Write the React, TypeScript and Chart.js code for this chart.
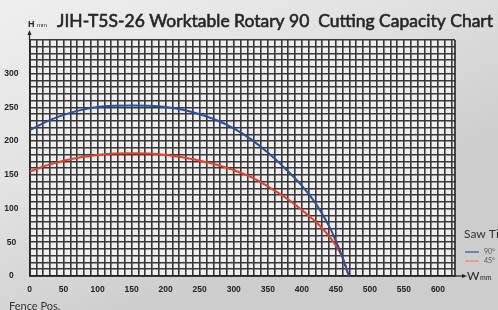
import React, { useEffect, useRef } from "react";
import { Chart, registerables } from "chart.js";

Chart.register(...registerables);

// ---- Data ----
const widths90 = [0, 25, 50, 75, 100, 125, 150, 175, 200, 225, 250, 275, 300, 325, 350, 375, 400, 420, 440, 450, 460, 469];
const heights90 = [216, 229, 239, 246, 250.5, 252.5, 253, 252.5, 250.5, 246.5, 240, 231, 219, 203, 183, 160, 134, 108, 74, 52, 27, 0];
const widths45 = [0, 25, 50, 75, 100, 125, 150, 175, 200, 225, 250, 275, 300, 325, 350, 375, 400, 425, 440, 450, 460, 469];
const heights45 = [155, 164, 171, 176, 179.5, 181.5, 182, 181.5, 179.5, 176, 171, 165, 157, 147, 133, 117, 98, 76, 59, 45, 27, 0];
const seriesLabels = ["90°", "45°"];
const xTickLabels = [0, 50, 100, 150, 200, 250, 300, 350, 400, 450, 500, 550, 600];
const yTickLabels = [0, 50, 100, 150, 200, 250, 300];
const titleText = "JIH-T5S-26 Worktable Rotary 90  Cutting Capacity Chart";
const legendTitle = "Saw Tilt";

const toPoints = (xs: number[], ys: number[]) => xs.map((x, i) => ({ x, y: ys[i] }));

const decorPlugin = {
  id: "decor",
  beforeDraw(chart: any) {
    const { ctx, width, height, chartArea } = chart;
    ctx.save();
    const g = ctx.createLinearGradient(0, 0, width * 0.3, height);
    g.addColorStop(0, "#efefef");
    g.addColorStop(0.5, "#e2e2e2");
    g.addColorStop(1, "#cdcdcd");
    ctx.fillStyle = g;
    ctx.fillRect(0, 0, width, height);
    ctx.fillStyle = "#efefef";
    ctx.fillRect(chartArea.left, chartArea.top, chartArea.right - chartArea.left, chartArea.bottom - chartArea.top);
    ctx.restore();
  },
  afterDraw(chart: any) {
    const { ctx, chartArea } = chart;
    const { left, right, top, bottom } = chartArea;
    ctx.save();
    ctx.strokeStyle = "#222";
    ctx.fillStyle = "#222";
    ctx.lineWidth = 1.6;
    // right border
    ctx.beginPath();
    ctx.moveTo(right, top);
    ctx.lineTo(right, bottom);
    ctx.stroke();
    // y arrow
    ctx.lineWidth = 1.2;
    ctx.beginPath();
    ctx.moveTo(left, top);
    ctx.lineTo(left, top - 7);
    ctx.stroke();
    ctx.beginPath();
    ctx.moveTo(left, top - 10);
    ctx.lineTo(left - 2, top - 5);
    ctx.lineTo(left + 2, top - 5);
    ctx.closePath();
    ctx.fill();
    // x arrow
    ctx.beginPath();
    ctx.moveTo(right, bottom);
    ctx.lineTo(right + 8, bottom);
    ctx.stroke();
    ctx.beginPath();
    ctx.moveTo(right + 12, bottom);
    ctx.lineTo(right + 7, bottom - 2);
    ctx.lineTo(right + 7, bottom + 2);
    ctx.closePath();
    ctx.fill();

    ctx.textBaseline = "alphabetic";
    ctx.textAlign = "left";
    // H mm
    ctx.fillStyle = "#222";
    ctx.font = "bold 9px 'Liberation Sans', sans-serif";
    ctx.fillText("H", 28, 26.5);
    ctx.font = "6px 'Liberation Sans', sans-serif";
    ctx.fillText("mm", 37, 26.5);
    // W mm
    ctx.font = "12px Lato, sans-serif";
    ctx.fillText("W", 467, bottom + 4);
    ctx.font = "7px Lato, sans-serif";
    ctx.fillText("mm", 480, bottom + 4);

    // Title
    ctx.font = "18px Lato, sans-serif";
    const w = ctx.measureText(titleText).width;
    const target = 436;
    ctx.save();
    ctx.translate(57, 27);
    ctx.scale(target / w, 1);
    ctx.fillStyle = "#262626";
    ctx.strokeStyle = "#262626";
    ctx.lineWidth = 0.6;
    ctx.fillText(titleText, 0, 0);
    ctx.strokeText(titleText, 0, 0);
    ctx.restore();

    // Fence Pos.
    ctx.fillStyle = "#333";
    ctx.font = "11px Lato, sans-serif";
    ctx.fillText("Fence Pos.", 9, 310);

    // Legend
    ctx.fillStyle = "#333";
    ctx.font = "12px Lato, sans-serif";
    ctx.fillText(legendTitle, 464, 238);
    const ds = chart.data.datasets;
    const ys = [252, 261];
    ds.forEach((d: any, i: number) => {
      ctx.strokeStyle = i === 0 ? "#3552a6" : "#f07a68";
      ctx.lineWidth = 1.2;
      ctx.beginPath();
      ctx.moveTo(465, ys[i]);
      ctx.lineTo(479, ys[i]);
      ctx.stroke();
      ctx.fillStyle = "#555";
      ctx.font = "7px Lato, sans-serif";
      ctx.fillText(d.label, 484, ys[i] + 2);
    });
    ctx.restore();
  },
};

export default function App() {
  const ref = useRef<HTMLCanvasElement | null>(null);
  useEffect(() => {
    if (!ref.current) return;
    const gridColor = "#383838";
    const tickFont = { family: "'Liberation Sans', Arial, sans-serif", size: 8.5, weight: "bold" as const };
    const chart = new Chart(ref.current, {
      type: "line",
      data: {
        datasets: [
          {
            label: seriesLabels[0],
            data: toPoints(widths90, heights90),
            borderColor: "#2a4ea3",
            borderWidth: 2,
            pointRadius: 0,
            tension: 0.4,
            fill: false,
          },
          {
            label: seriesLabels[1],
            data: toPoints(widths45, heights45),
            borderColor: "#ec3d26",
            borderWidth: 2,
            pointRadius: 0,
            tension: 0.4,
            fill: false,
          },
        ],
      },
      options: {
        animation: false,
        responsive: false,
        devicePixelRatio: 1,
        layout: { padding: { top: 40, right: 43, left: 0, bottom: 0 } },
        plugins: { legend: { display: false }, tooltip: { enabled: false }, title: { display: false } },
        scales: {
          x: {
            type: "linear",
            min: 0,
            max: 625,
            ticks: {
              stepSize: 10,
              includeBounds: false,
              autoSkip: false,
              maxRotation: 0,
              padding: 9,
              color: "#222",
              font: tickFont,
              callback: (v: any) => (xTickLabels.includes(Number(v)) ? String(v) : ""),
            },
            grid: { color: gridColor, lineWidth: 1.6, drawTicks: false },
            border: { display: true, color: "#222", width: 1.8 },
            afterFit: (s: any) => {
              s.height = 34;
            },
          },
          y: {
            type: "linear",
            min: 0,
            max: 350,
            ticks: {
              stepSize: 10,
              autoSkip: false,
              padding: 11,
              crossAlign: "center",
              color: "#222",
              font: tickFont,
              callback: (v: any) => (yTickLabels.includes(Number(v)) ? String(v) : ""),
            },
            grid: { color: gridColor, lineWidth: 1.6, drawTicks: false },
            border: { display: true, color: "#222", width: 1.8 },
            afterFit: (s: any) => {
              s.width = 29.5;
            },
          },
        },
      },
      plugins: [decorPlugin],
    });
    return () => chart.destroy();
  }, []);
  return (
    <div style={{ position: "absolute", left: 0, top: 0, width: 498, height: 310, overflow: "hidden" }}>
      <canvas ref={ref} width={498} height={310} />
    </div>
  );
}
